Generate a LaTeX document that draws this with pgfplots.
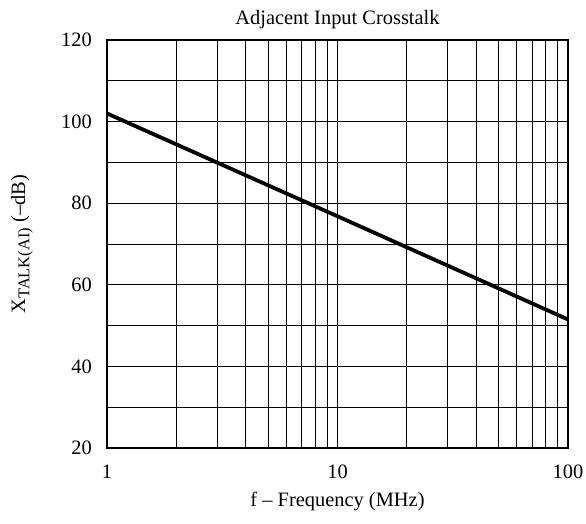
\documentclass[border=0pt]{standalone}
\usepackage{fontspec}
\setmainfont{Liberation Serif}
\usepackage{pgfplots}
\pgfplotsset{compat=1.18}
\begin{document}
\begin{tikzpicture}
\useasboundingbox (0,0) rectangle (586bp,524bp);
\begin{axis}[
    at={(107bp,76bp)}, anchor=south west,
    scale only axis, width=461bp, height=408bp,
    xmode=log, xmin=1, xmax=100,
    ymin=20, ymax=120,
    xtick={1,10,100}, xticklabels={1,10,100},
    minor xtick={2,3,4,5,6,7,8,9,20,30,40,50,60,70,80,90},
    ytick={20,40,...,120},
    minor ytick={30,50,...,110},
    /pgf/number format/assume math mode=true,
    grid=both,
    major grid style={black, line width=0.8bp},
    minor grid style={black, line width=0.8bp},
    major tick length=0pt, minor tick length=0pt,
    axis line style={black, line width=1.1bp},
    tick label style={font=\fontsize{20.5}{22}\selectfont},
    xticklabel style={anchor=center, inner sep=0pt},
    xticklabel shift=23.5bp,
    yticklabel style={anchor=east, inner sep=0pt},
    yticklabel shift=15bp,
    title={Adjacent Input Crosstalk},
    title style={font=\fontsize{20.5}{22}\selectfont, at={(rel axis cs:0.5,1)}, anchor=base, inner sep=0pt, yshift=10bp},
    xlabel={f -- Frequency (MHz)},
    xlabel style={font=\fontsize{20.5}{22}\selectfont, at={(rel axis cs:0.5,0)}, anchor=center, inner sep=0pt, yshift=-54bp},
    ylabel={X\textsubscript{\fontsize{16.5}{17}\selectfont TALK(AI)} (--dB)},
    ylabel style={font=\fontsize{20.5}{22}\selectfont, at={(rel axis cs:0,0.5)}, anchor=center, inner sep=0pt, yshift=85bp},
]
\addplot[black, line width=3.8bp] coordinates {
    (1,102) (10,76.8) (100,51.5)
};
\end{axis}
\end{tikzpicture}
\end{document}
